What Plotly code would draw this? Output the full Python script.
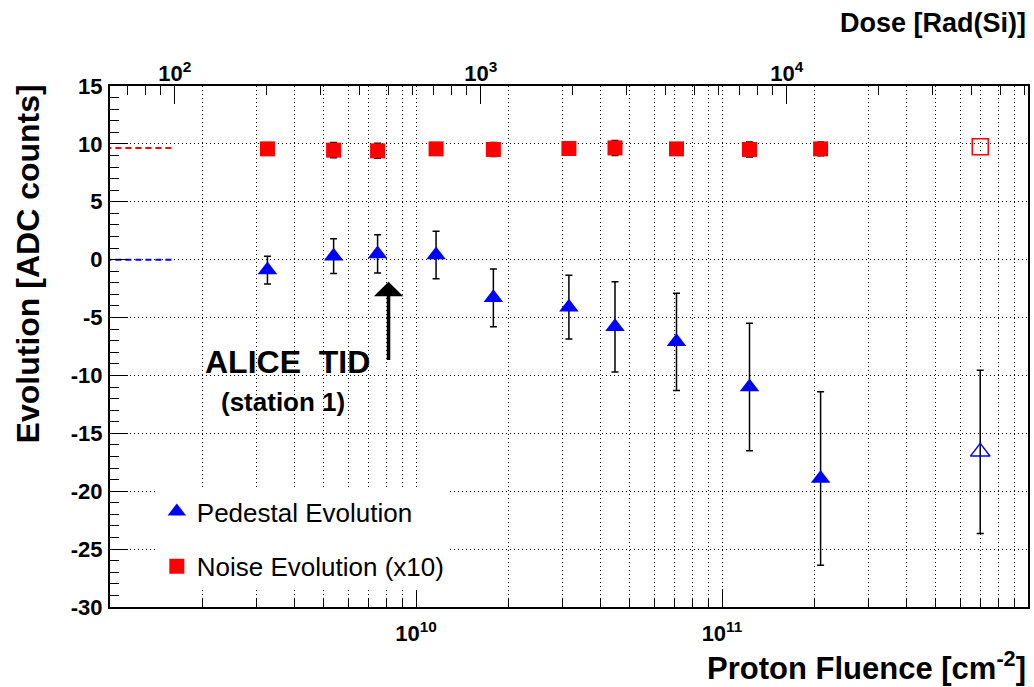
import math
import plotly.graph_objects as go

# ---------------- data ----------------
fluence = [3.27e9, 5.38e9, 7.49e9, 1.163e10, 1.79e10, 3.16e10, 4.47e10, 7.10e10, 1.23e11, 2.10e11]
pedestal = [-0.9, 0.3, 0.5, 0.4, -3.3, -4.1, -5.8, -7.1, -11.0, -18.9]
pedestal_err = [1.2, 1.5, 1.65, 2.05, 2.5, 2.75, 3.9, 4.2, 5.5, 7.5]
noise = [9.57, 9.46, 9.40, 9.57, 9.52, 9.60, 9.65, 9.57, 9.52, 9.57]
noise_err = [0.45, 0.65, 0.65, 0.45, 0.6, 0.45, 0.65, 0.45, 0.65, 0.6]

open_fluence = [6.98e11]
open_pedestal = [-16.6]
open_pedestal_err = [7.05]
open_noise = [9.75]

ref_dose = [55, 100]          # pre-irradiation reference (Rad(Si))
ref_noise = [9.65, 9.65]
ref_pedestal = [0.0, 0.0]

dose_per_fluence = 6.14e-8    # Rad(Si) per p/cm^2 (top axis conversion)
fluence_range = [1e9, 1e12]
y_range = [-30, 15]

y_ticks = [-30, -25, -20, -15, -10, -5, 0, 5, 10, 15]
y_tick_text = ["-30", "-25", "-20", "-15", "-10", "-5", "0", "5", "10", "15"]
x_major = [1e10, 1e11]
x_major_text = ["10<sup>10</sup>", "10<sup>11</sup>"]
x_minor = [m * 10 ** e for e in (9, 10, 11) for m in range(2, 10)]
dose_major = [100, 1000, 10000]
dose_major_text = ["10<sup>2</sup>", "10<sup>3</sup>", "10<sup>4</sup>"]
dose_minor = [70, 80, 90] + [m * 10 ** e for e in (2, 3) for m in range(2, 10)] + [m * 10000 for m in range(2, 7)]

FONT = "Liberation Sans"
GRID_DASH = "1px,3px"

# ---------------- figure ----------------
fig = go.Figure()

fig.add_trace(go.Scatter(
    x=fluence, y=pedestal, mode="markers", name="Pedestal Evolution",
    legendgroup="ped",
    marker=dict(symbol="triangle-up", size=17, color="#0000ff", line=dict(width=0)),
    error_y=dict(type="data", array=pedestal_err, color="black", thickness=1.5, width=3.5),
))
fig.add_trace(go.Scatter(
    x=fluence, y=noise, mode="markers", name="Noise Evolution (x10)",
    legendgroup="noise",
    marker=dict(symbol="square", size=15, color="#ff0000", line=dict(width=0)),
    error_y=dict(type="data", array=noise_err, color="black", thickness=1.5, width=3.5),
))
fig.add_trace(go.Scatter(
    x=open_fluence, y=open_pedestal, mode="markers", showlegend=False,
    marker=dict(symbol="triangle-up-open", size=17, color="#0000ff", line=dict(width=1.5)),
    error_y=dict(type="data", array=open_pedestal_err, color="black", thickness=1.5, width=3.5),
))
fig.add_trace(go.Scatter(
    x=open_fluence, y=open_noise, mode="markers", showlegend=False,
    marker=dict(symbol="square-open", size=16, color="#ff0000", line=dict(width=1.5)),
))
fig.add_trace(go.Scatter(
    x=ref_dose, y=ref_noise, mode="lines", showlegend=False, xaxis="x2",
    line=dict(color="#ff0000", width=2, dash="6px,4px"),
))
fig.add_trace(go.Scatter(
    x=ref_dose, y=ref_pedestal, mode="lines", showlegend=False, xaxis="x2",
    line=dict(color="#0000ff", width=2, dash="6px,4px"),
))

tickfont = dict(family=FONT, size=22, color="black", weight="bold")
ytickfont = dict(family=FONT, size=22, color="black", weight="bold")

fig.update_layout(
    width=1034, height=687,
    margin=dict(l=110, r=4, t=86, b=80),
    paper_bgcolor="white", plot_bgcolor="white",
    font=dict(family=FONT, color="black"),
    xaxis=dict(
        type="log", range=[math.log10(fluence_range[0]), math.log10(fluence_range[1])],
        tickmode="array", tickvals=x_major, ticktext=x_major_text,
        ticks="inside", ticklen=18, tickwidth=1, tickcolor="black",
        tickfont=tickfont, ticklabelstandoff=6,
        showline=True, linecolor="black", linewidth=2, mirror=True,
        showgrid=True, gridcolor="black", gridwidth=1, griddash=GRID_DASH,
        zeroline=False,
        minor=dict(tickvals=x_minor, ticks="inside", ticklen=9, tickcolor="black", tickwidth=1,
                   showgrid=True, gridcolor="black", gridwidth=1, griddash=GRID_DASH),
    ),
    xaxis2=dict(
        type="log", overlaying="x", side="top", anchor="y",
        range=[math.log10(fluence_range[0] * dose_per_fluence),
               math.log10(fluence_range[1] * dose_per_fluence)],
        tickmode="array", tickvals=dose_major, ticktext=dose_major_text,
        ticks="inside", ticklen=18, tickwidth=1, tickcolor="black",
        tickfont=tickfont, ticklabelstandoff=-6,
        showline=True, linecolor="black", linewidth=2,
        showgrid=False, zeroline=False,
        minor=dict(tickvals=dose_minor, ticks="inside", ticklen=9, tickcolor="black", tickwidth=1,
                   showgrid=False),
    ),
    yaxis=dict(
        range=y_range, tickmode="array", tickvals=y_ticks, ticktext=y_tick_text,
        ticks="inside", ticklen=18, tickwidth=1, tickcolor="black",
        tickfont=ytickfont, ticklabelstandoff=1,
        showline=True, linecolor="black", linewidth=2, mirror=True,
        showgrid=True, gridcolor="black", gridwidth=1, griddash=GRID_DASH,
        zeroline=False,
        minor=dict(tickmode="linear", tick0=0, dtick=1, ticks="inside", ticklen=9,
                   tickcolor="black", tickwidth=1, showgrid=False),
    ),
    legend=dict(
        x=0.051, y=0.2283, xanchor="left", yanchor="top",
        bgcolor="white", borderwidth=0,
        font=dict(family=FONT, size=26, color="black"),
        traceorder="grouped", tracegroupgap=18,
    ),
    showlegend=True,
)

annotations = [
    dict(text="Evolution [ADC counts]", textangle=-90, xref="paper", yref="paper",
         x=-0.0891, y=0.658, xanchor="center", yanchor="middle", showarrow=False,
         font=dict(family=FONT, size=32, color="black", weight="bold")),
    dict(text="Proton Fluence [cm<sup>-2</sup>]", xref="paper", yref="paper",
         x=1.0, y=-0.113, xanchor="right", yanchor="middle", showarrow=False,
         font=dict(family=FONT, size=31, color="black", weight="bold")),
    dict(text="Dose [Rad(Si)]", xref="paper", yref="paper",
         x=1.0, y=1.12, xanchor="right", yanchor="middle", showarrow=False,
         font=dict(family=FONT, size=27, color="black", weight="bold")),
    dict(text="ALICE\u00a0\u00a0TID", xref="paper", yref="paper",
         x=0.1935, y=0.4705, xanchor="center", yanchor="middle", showarrow=False,
         font=dict(family=FONT, size=32, color="black", weight="bold")),
    dict(text="(station 1)", xref="paper", yref="paper",
         x=0.1880, y=0.3942, xanchor="center", yanchor="middle", showarrow=False,
         font=dict(family=FONT, size=26, color="black", weight="bold")),
    dict(text="", xref="x", yref="y", x=9.9103, y=-1.9,
         axref="x", ayref="y", ax=9.9103, ay=-8.8,
         showarrow=True, arrowhead=1, arrowsize=1.4, arrowwidth=3.5, arrowcolor="black"),
]
fig.update_layout(annotations=annotations)

fig.write_html(
    "out.html",
    config={"displayModeBar": False},
    post_script="document.body.style.margin='0';document.body.style.overflow='hidden';",
)
